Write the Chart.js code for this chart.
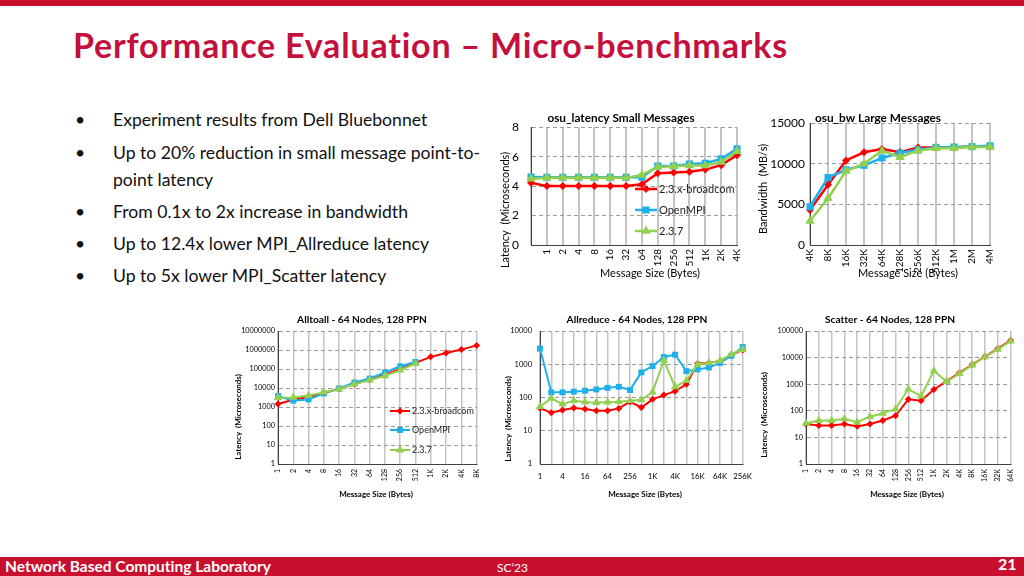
<!DOCTYPE html>
<html>
<head>
<meta charset="utf-8">
<script src="https://cdn.jsdelivr.net/npm/chart.js@4.4.0/dist/chart.umd.min.js"></script>
<style>
  html, body { margin: 0; padding: 0; background: #fff; }
  body { width: 1024px; height: 576px; position: relative; overflow: hidden; font-family: Lato, "Noto Sans", sans-serif; font-variant-ligatures: none; }
  #topbar { position: absolute; left: 0; top: 0; width: 1024px; height: 6px; background: #c8102e; }
  #title { position: absolute; left: 73px; top: 28px; font-size: 34px; line-height: 34px; letter-spacing: 0.8px; font-weight: bold; color: #c4103c; white-space: nowrap; }
  .bl { position: absolute; left: 75px; font-size: 17.6px; color: #111; white-space: nowrap; line-height: 20px; }
  .bl span { position: absolute; left: 38px; }
  .panel { position: absolute; }
  #footer { position: absolute; left: 0; top: 557px; width: 1024px; height: 19px; background: #c8102e; color: #fff; }
  #footer div { position: absolute; white-space: nowrap; }
</style>
</head>
<body>
<div id="topbar"></div>
<div id="title">Performance Evaluation – Micro-benchmarks</div>

<div class="bl" style="top:110px">•<span>Experiment results from Dell Bluebonnet</span></div>
<div class="bl" style="top:143px">•<span>Up to 20% reduction in small message point-to-</span></div>
<div class="bl" style="top:170px"><span>point latency</span></div>
<div class="bl" style="top:202px">•<span>From 0.1x to 2x increase in bandwidth</span></div>
<div class="bl" style="top:234px">•<span>Up to 12.4x lower MPI_Allreduce latency</span></div>
<div class="bl" style="top:266px">•<span>Up to 5x lower MPI_Scatter latency</span></div>

<div id="footer">
  <div style="left:5px; top:0px; font-size:15.5px; font-weight:bold;">Network Based Computing Laboratory</div>
  <div style="left:497px; top:3px; font-size:12px;">SC’23</div>
  <div style="left:998px; top:-3px; font-size:16px; font-weight:bold;">21</div>
</div>

<script>
// ---- data ----
const seriesNames = ["2.3.x-broadcom", "OpenMPI", "2.3.7"];

const latSizes = ["", "1", "2", "4", "8", "16", "32", "64", "128", "256", "512", "1K", "2K", "4K"];
const latBroadcom = [4.23, 4.0, 4.0, 4.0, 4.0, 4.0, 4.0, 4.12, 4.87, 4.93, 4.98, 5.13, 5.42, 6.1];
const latOpenMPI = [4.62, 4.6, 4.6, 4.6, 4.6, 4.6, 4.6, 4.6, 5.37, 5.37, 5.5, 5.55, 5.85, 6.53];
const lat237 = [4.5, 4.56, 4.56, 4.56, 4.56, 4.56, 4.56, 4.76, 5.3, 5.35, 5.4, 5.4, 5.63, 6.36];
const latTicks = [0, 2, 4, 6, 8];

const bwSizes = ["4K", "8K", "16K", "32K", "64K", "128K", "256K", "512K", "1M", "2M", "4M"];
const bwBroadcom = [4300, 7400, 10400, 11400, 11800, 11400, 12000, 12000, 12000, 12100, 12100];
const bwOpenMPI = [4700, 8300, 9250, 9800, 10700, 11300, 11700, 12000, 12050, 12100, 12200];
const bw237 = [2950, 5750, 9100, 10000, 11600, 10800, 11600, 11900, 11900, 12050, 12050];
const bwTicks = [0, 5000, 10000, 15000];

const a2aSizes = ["1", "2", "4", "8", "16", "32", "64", "128", "256", "512", "1K", "2K", "4K", "8K"];
const a2aBroadcom = [1450, 2400, 3500, 5500, 9000, 16000, 27000, 50000, 100000, 210000, 435000, 700000, 1050000, 1750000];
const a2aOpenMPI = [3800, 2150, 2500, 5200, 9500, 19500, 31500, 66000, 140000, 235000];
const a2a237 = [3100, 3200, 4000, 5900, 8800, 16000, 26000, 44000, 87000, 195000];
const a2aTicks = [1, 10, 100, 1000, 10000, 100000, 1000000, 10000000];

const arSizes = ["1", "2", "4", "8", "16", "32", "64", "128", "256", "512", "1K", "2K", "4K", "8K", "16K", "32K", "64K", "128K", "256K"];
const arBroadcom = [48, 35, 42, 48, 45, 40, 40, 47, 75, 50, 88, 118, 155, 250, 1050, 1100, 1260, 1880, 2700];
const arOpenMPI = [2960, 143, 143, 150, 160, 175, 195, 210, 168, 570, 880, 1650, 1940, 620, 700, 800, 1100, 1800, 3300];
const ar237 = [53, 95, 63, 80, 73, 70, 73, 75, 80, 85, 145, 1320, 210, 320, 1000, 1100, 1260, 2000, 2770];
const arTicks = [1, 10, 100, 1000, 10000];

const scSizes = ["1", "2", "4", "8", "16", "32", "64", "128", "256", "512", "1K", "2K", "4K", "8K", "16K", "32K", "64K"];
const scBroadcom = [32, 28, 28, 32, 26, 32, 43, 65, 270, 240, 630, 1300, 2700, 5500, 11000, 22000, 45000];
const sc237 = [34, 43, 43, 50, 37, 60, 81, 117, 660, 360, 3200, 1250, 2500, 5200, 10600, 20500, 42000];
const scTicks = [1, 10, 100, 1000, 10000, 100000];

// ---- styling helpers ----
const FONT = "Lato, 'Noto Sans', sans-serif";
const RED = "#ff0000", BLUE = "#1fb0ec", GREEN = "#92d050";
const MARK = [
  { color: RED, style: "rectRot", order: 2 },
  { color: BLUE, style: "rect", order: 1 },
  { color: GREEN, style: "triangle", order: 0 }
];

function series(i, data, r, lw) {
  const m = MARK[i];
  return {
    label: seriesNames[i], data: data,
    borderColor: m.color, backgroundColor: m.color,
    pointStyle: m.style, pointRadius: r[i], pointBorderWidth: 0,
    borderWidth: lw, order: m.order, tension: 0, clip: false
  };
}

// titles drawn at fixed spots (canvas coords); rot = -90 for the y-axis title
function textPlugin(items) {
  return {
    id: "panelText",
    afterDraw(chart) {
      const ctx = chart.ctx;
      items.forEach(t => {
        ctx.save();
        ctx.font = (t.bold ? "bold " : "") + t.size + "px " + FONT;
        ctx.fillStyle = "#000";
        ctx.textAlign = "center";
        ctx.textBaseline = "middle";
        ctx.translate(t.x, t.y);
        if (t.rot) ctx.rotate(t.rot * Math.PI / 180);
        ctx.fillText(t.text, 0, 0);
        ctx.restore();
      });
    }
  };
}

function legendPlugin(x0, x1, tx, ys, size) {
  return {
    id: "boxLegend",
    afterDraw(chart) {
      const ctx = chart.ctx;
      ctx.save();
      chart.data.datasets.forEach((ds, i) => {
        const y = ys[i];
        ctx.strokeStyle = ds.borderColor;
        ctx.fillStyle = ds.backgroundColor;
        ctx.lineWidth = ds.borderWidth;
        ctx.beginPath();
        ctx.moveTo(x0, y);
        ctx.lineTo(x1, y);
        ctx.stroke();
        Chart.helpers.drawPoint(ctx, { pointStyle: ds.pointStyle, radius: ds.pointRadius, rotation: 0, borderWidth: 0 }, (x0 + x1) / 2, y);
        ctx.fillStyle = "#222";
        ctx.font = size + "px " + FONT;
        ctx.textAlign = "left";
        ctx.textBaseline = "middle";
        ctx.fillText(ds.label, tx, y);
      });
      ctx.restore();
    }
  };
}

function xAxis(labels, o) {
  return {
    type: "category", labels: labels, offset: false,
    grid: { color: "#c4c4c4", lineWidth: o.gridW, drawTicks: false },
    border: { color: "#404040", width: 1 },
    ticks: {
      autoSkip: false, maxRotation: o.rot, minRotation: o.rot, padding: o.pad,
      color: "#000", font: { family: FONT, size: o.size },
      callback: (v, i) => (o.every && i % o.every) ? "" : labels[i]
    },
    afterFit: s => { s.height = o.height; }
  };
}

function yAxis(type, ticks, o) {
  return {
    type: type, min: ticks[0], max: ticks[ticks.length - 1],
    afterBuildTicks: s => { s.ticks = ticks.map(v => ({ value: v })); },
    grid: { color: "#9c9c9c", lineWidth: 1, drawTicks: false },
    border: { color: "#404040", width: 1, dash: [4, 3] },
    ticks: { padding: o.pad, color: "#000", font: { family: FONT, size: o.size }, callback: v => String(v) },
    afterFit: s => { s.width = o.width; }
  };
}

function makeChart(box, plot, datasets, labels, xo, yType, yTicks, yo, plugins) {
  const div = document.createElement("div");
  div.className = "panel";
  div.style.left = box.x + "px";
  div.style.top = box.y + "px";
  div.style.width = box.w + "px";
  div.style.height = box.h + "px";
  const cv = document.createElement("canvas");
  cv.width = box.w; cv.height = box.h;
  cv.style.width = box.w + "px"; cv.style.height = box.h + "px";
  div.appendChild(cv);
  document.body.appendChild(div);

  xo.height = box.y + box.h - plot.bottom;
  yo.width = plot.left - box.x;

  return new Chart(cv, {
    type: "line",
    data: { labels: labels, datasets: datasets },
    options: {
      responsive: false, animation: false, events: [],
      layout: { padding: { left: 0, top: plot.top - box.y, right: box.x + box.w - plot.right, bottom: 0 } },
      plugins: { legend: { display: false }, tooltip: { enabled: false } },
      scales: { x: xAxis(labels, xo), y: yAxis(yType, yTicks, yo) }
    },
    plugins: plugins
  });
}

const XT = "Message Size (Bytes)";
const LT = "Latency  (Microseconds)";

// ---- top row ----
const topR = [4, 5, 5.5];
makeChart({ x: 495, y: 108, w: 258, h: 180 }, { left: 531, top: 123, right: 742, bottom: 245 },
  [series(0, latBroadcom, topR, 2.5), series(1, latOpenMPI, topR, 2.5), series(2, lat237, topR, 2.5)],
  latSizes,
  { gridW: 2, rot: 90, pad: 4, size: 10 },
  "linear", latTicks,
  { pad: 12, size: 12 },
  [textPlugin([
    { text: "osu_latency Small Messages", x: 126, y: 10, size: 11.8, bold: true },
    { text: XT, x: 155, y: 165, size: 11 },
    { text: LT, x: 10, y: 102, size: 11, rot: -90 }
  ]), legendPlugin(140, 162, 164, [81, 102, 123], 11)]);

makeChart({ x: 755, y: 108, w: 269, h: 180 }, { left: 810, top: 123, right: 990, bottom: 245 },
  [series(0, bwBroadcom, topR, 2.5), series(1, bwOpenMPI, topR, 2.5), series(2, bw237, topR, 2.5)],
  bwSizes,
  { gridW: 2, rot: 90, pad: 4, size: 10 },
  "linear", bwTicks,
  { pad: 5, size: 12 },
  [textPlugin([
    { text: "osu_bw Large Messages", x: 123, y: 10, size: 11.8, bold: true },
    { text: XT, x: 153, y: 165, size: 11 },
    { text: "Bandwidth  (MB/s)", x: 8, y: 81, size: 11, rot: -90 }
  ])]);

// ---- bottom row ----
const botR = [3.5, 4.2, 4.8];
makeChart({ x: 225, y: 308, w: 265, h: 196 }, { left: 278, top: 331, right: 481, bottom: 464 },
  [series(0, a2aBroadcom, botR, 2), series(1, a2aOpenMPI, botR, 2), series(2, a2a237, botR, 2)],
  a2aSizes,
  { gridW: 1.5, rot: 90, pad: 5, size: 7 },
  "logarithmic", a2aTicks,
  { pad: 3, size: 7.3 },
  [textPlugin([
    { text: "Alltoall - 64 Nodes, 128 PPN", x: 137, y: 12, size: 10.2, bold: true },
    { text: XT, x: 151, y: 186, size: 8, bold: true },
    { text: LT, x: 13, y: 109, size: 8, bold: true, rot: -90 }
  ]), legendPlugin(165, 185, 187, [103, 122, 142], 9)]);

makeChart({ x: 495, y: 308, w: 265, h: 196 }, { left: 540, top: 331, right: 750, bottom: 464 },
  [series(0, arBroadcom, botR, 2), series(1, arOpenMPI, botR, 2), series(2, ar237, botR, 2)],
  arSizes,
  { gridW: 1.5, rot: 0, pad: 8, size: 7.8, every: 2 },
  "logarithmic", arTicks,
  { pad: 8, size: 7.5 },
  [textPlugin([
    { text: "Allreduce - 64 Nodes, 128 PPN", x: 142, y: 12, size: 10.2, bold: true },
    { text: XT, x: 150, y: 186, size: 8, bold: true },
    { text: LT, x: 13, y: 111, size: 8, bold: true, rot: -90 }
  ])]);

makeChart({ x: 755, y: 308, w: 269, h: 196 }, { left: 806, top: 331, right: 1011, bottom: 464 },
  [series(0, scBroadcom, botR, 2), series(2, sc237, botR, 2)],
  scSizes,
  { gridW: 1.5, rot: 90, pad: 5, size: 7 },
  "logarithmic", scTicks,
  { pad: 3, size: 7.3 },
  [textPlugin([
    { text: "Scatter - 64 Nodes, 128 PPN", x: 135, y: 12, size: 10.2, bold: true },
    { text: XT, x: 152, y: 186, size: 8, bold: true },
    { text: LT, x: 9, y: 107, size: 8, bold: true, rot: -90 }
  ])]);
</script>
</body>
</html>
